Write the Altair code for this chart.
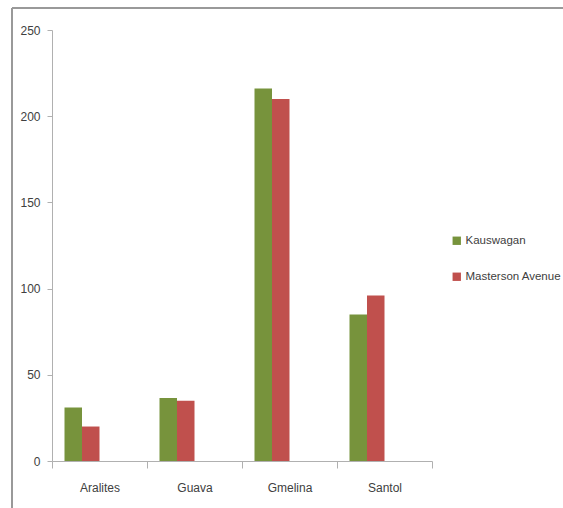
import altair as alt
import pandas as pd

categories = ["Aralites", "Guava", "Gmelina", "Santol"]
series_names = ["Kauswagan", "Masterson Avenue"]
kauswagan = [31, 36.5, 216, 85]
masterson = [20, 35, 210, 96]
y_ticks = [0, 50, 100, 150, 200, 250]

rows = []
for i, c in enumerate(categories):
    rows.append({"cat": c, "series": series_names[0], "value": kauswagan[i]})
    rows.append({"cat": c, "series": series_names[1], "value": masterson[i]})
df = pd.DataFrame(rows)

FONT = "Liberation Sans Narrow, Arial Narrow, Liberation Sans, sans-serif"
colors = ["#77933C", "#C0504D"]

bars = alt.Chart(df).mark_bar().encode(
    x=alt.X("cat:N", sort=categories, title=None,
            scale=alt.Scale(paddingInner=0, paddingOuter=0),
            axis=alt.Axis(labelAngle=0, tickBand="extent", tickSize=7, labelPadding=14,
                          domainColor="#b0b0b0", tickColor="#b0b0b0",
                          labelFont=FONT, labelFontSize=12, labelColor="#404040")),
    xOffset=alt.XOffset("series:N",
                        scale=alt.Scale(domain=series_names + ["_a", "_b"],
                                        paddingInner=0, paddingOuter=0.714)),
    y=alt.Y("value:Q", title=None,
            scale=alt.Scale(domain=[0, 250], nice=False),
            axis=alt.Axis(values=y_ticks, grid=False, tickSize=5, labelPadding=7,
                          domainColor="#b0b0b0", tickColor="#b0b0b0",
                          labelFont=FONT, labelFontSize=12, labelColor="#404040")),
    color=alt.Color("series:N", scale=alt.Scale(domain=series_names, range=colors),
                    legend=alt.Legend(title=None, orient="none", legendX=399, legendY=205,
                                      symbolType="square", symbolSize=70, rowPadding=23,
                                      symbolStrokeWidth=0,
                                      labelFont=FONT, labelFontSize=11.5, labelColor="#404040",
                                      labelOffset=3)),
)

frame = alt.Chart(pd.DataFrame({"v": [0]})).mark_rule(color="#999999", strokeWidth=2).encode(
    x=alt.value(-40), x2=alt.value(520), y=alt.value(-22))
frame2 = alt.Chart(pd.DataFrame({"v": [0]})).mark_rule(color="#999999", strokeWidth=2).encode(
    x=alt.value(-40), y=alt.value(-22), y2=alt.value(480))

chart = alt.layer(frame, frame2, bars).properties(
    width=380, height=431,
    background="white",
    autosize=alt.AutoSizeParams(type="none"),
    padding={"left": 52, "top": 30, "right": 131, "bottom": 47},
).configure_view(strokeWidth=0, stroke="transparent")

chart.save("out.html", embed_options={"renderer": "svg", "actions": False})
